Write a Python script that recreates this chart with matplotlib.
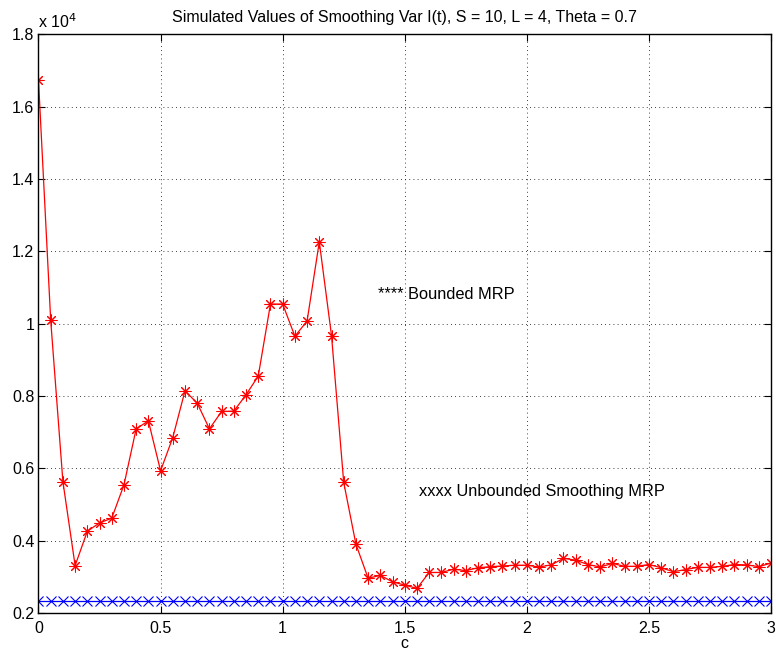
import numpy as np
import matplotlib
matplotlib.use('Agg')
import matplotlib.pyplot as plt

plt.rcParams['font.family'] = ['Liberation Sans', 'DejaVu Sans']

# smoothing parameter c, 0 .. 3 in steps of 0.05
c = np.round(np.arange(0, 3.0001, 0.05), 2)

# simulated variance of I(t), bounded MRP
bounded = [16730, 10090, 5630, 3310, 4260, 4490, 4620, 5540, 7090, 7310,
           5930, 6850, 8140, 7800, 7090, 7570, 7580, 8030, 8550, 10540,
           10540, 9650, 10070, 12260, 9670, 5610, 3900, 2960, 3040, 2860,
           2770, 2680, 3120, 3120, 3210, 3170, 3250, 3280, 3300, 3320,
           3320, 3270, 3330, 3510, 3460, 3340, 3270, 3370, 3290, 3290,
           3340, 3250, 3140, 3200, 3260, 3260, 3290, 3340, 3330, 3280,
           3380]

# unbounded smoothing MRP is flat
unbounded = [2330] * len(c)

fig = plt.figure(figsize=(7.76, 6.57), dpi=100)
ax = fig.add_axes([0.0496, 0.067, 0.944, 0.881])

# matlab style asterisk marker
ax.plot(c, np.array(bounded) / 1e4, color='red', lw=0.9,
        marker=(8, 2, 0), ms=8.5, mew=0.75)
ax.plot(c, np.array(unbounded) / 1e4, 'b-x', lw=0.9, ms=6.5, mew=0.8)

ax.set_xlim(0, 3)
ax.set_ylim(0.2, 1.8)
ax.set_xticks([0, 0.5, 1, 1.5, 2, 2.5, 3])
ax.set_xticklabels(['0', '0.5', '1', '1.5', '2', '2.5', '3'])
yt = [0.2, 0.4, 0.6, 0.8, 1, 1.2, 1.4, 1.6, 1.8]
ax.set_yticks(yt)
ax.set_yticklabels(['0.2', '0.4', '0.6', '0.8', '1', '1.2', '1.4', '1.6', '1.8'])
ax.tick_params(direction='in', top=True, right=True, labelsize=11.5, length=5, pad=6)
ax.tick_params(axis='y', pad=3)
ax.grid(True, color='black', linestyle=(0, (1, 4)), linewidth=0.6)
for s in ax.spines.values():
    s.set_linewidth(1.0)

ax.set_xlabel('c', fontsize=11.5, labelpad=0)
ax.set_title('Simulated Values of Smoothing Var I(t), S = 10, L = 4, Theta = 0.7',
             fontsize=11.5, pad=9)
ax.text(0, 1.005, 'x 10$^4$', transform=ax.transAxes, fontsize=11.5, va='bottom', ha='left')

ax.text(1.39, 1.08, '**** Bounded MRP', fontsize=11.8, va='center')
ax.text(1.56, 0.535, 'xxxx Unbounded Smoothing MRP', fontsize=11.8, va='center')

fig.savefig('out.png', dpi=100)
